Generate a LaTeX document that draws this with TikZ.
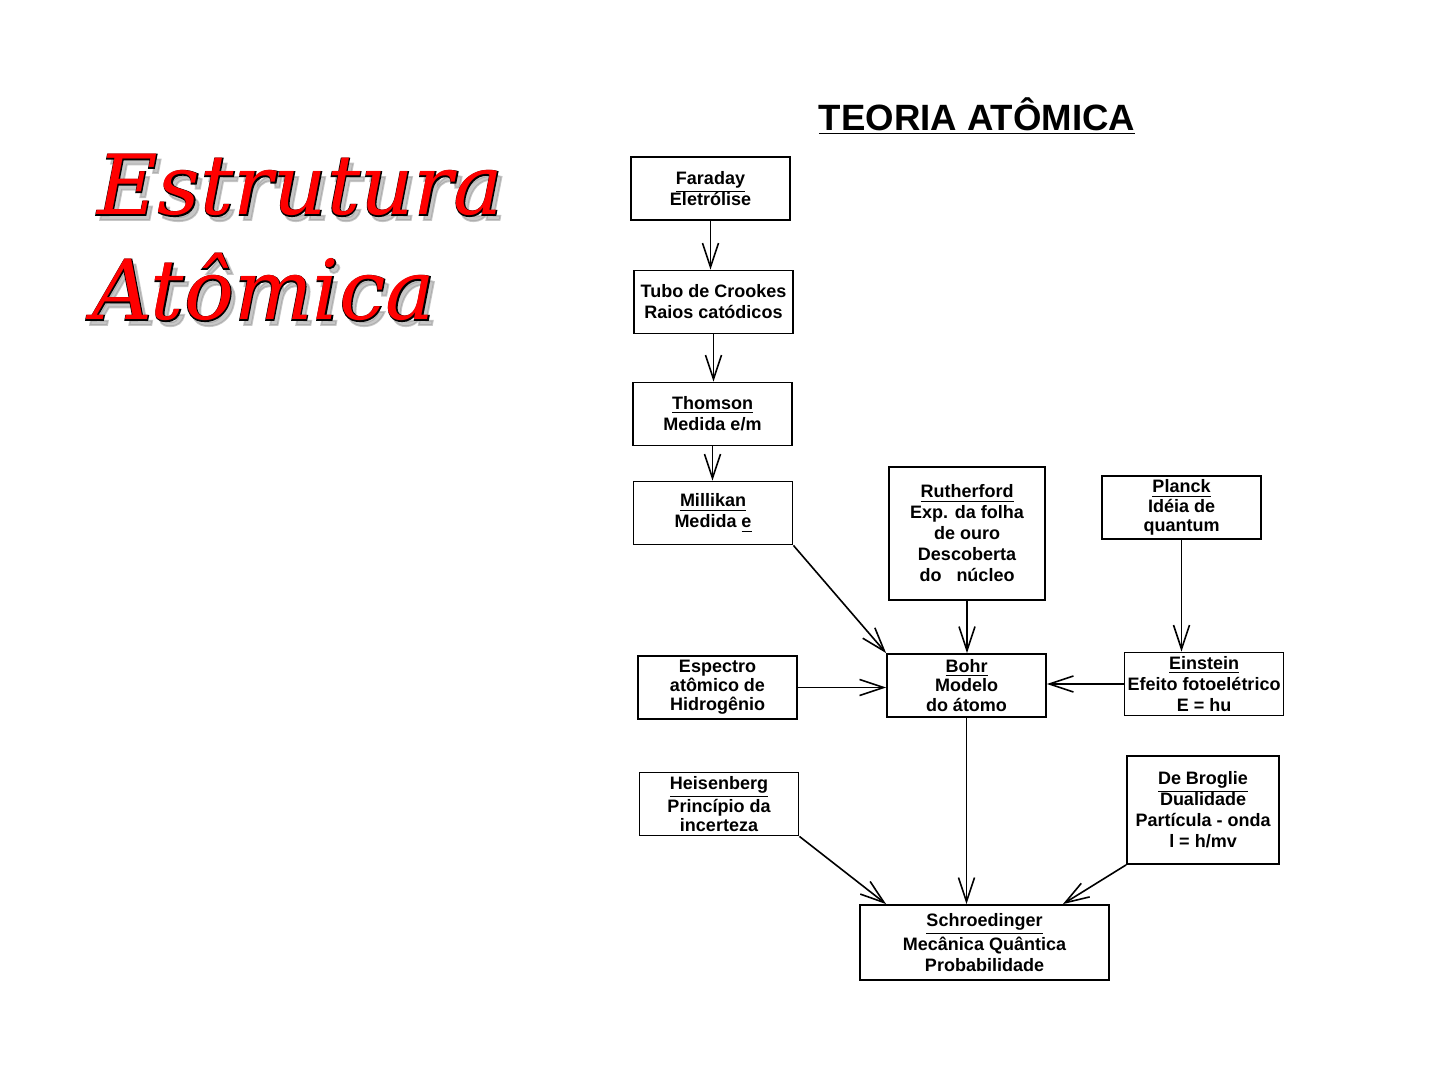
\documentclass[tikz,border=0pt]{standalone}
\usepackage{fontspec}
\setmainfont{Liberation Sans}
\newfontface\titleface{DejaVu Serif Italic}
\newfontface\titleedge[FakeBold=2.2]{DejaVu Serif Italic}
\usetikzlibrary{arrows.meta}

\newcommand{\boxfont}{\fontsize{9}{10.5}\selectfont\bfseries}
\newcommand{\bigtitle}{\titleface\fontsize{41.5}{41.5}\selectfont}
\newcommand{\bigedge}{\titleedge\fontsize{41.5}{41.5}\selectfont}

\tikzset{
  box/.style={draw, rectangle, line width=0.9pt, minimum width=79.5pt, minimum height=31.5pt, inner sep=0.5pt, align=center, font=\boxfont},
  tight/.style={font=\fontsize{9}{9.6}\selectfont\bfseries},
  link/.style={line width=0.8pt, ->},
  shade/.style={anchor=base west, inner sep=0, text=black!40, opacity=0.55, font=\bigedge},
  edge/.style={anchor=base west, inner sep=0, text=black, font=\bigedge},
  face/.style={anchor=base west, inner sep=0, text=red, font=\bigtitle},
}

\begin{document}
\begin{tikzpicture}[x=0.5pt, y=-0.5pt, >={Straight Barb[length=12pt,width=8pt]}]
\useasboundingbox (0,0) rectangle (1440,1080);

% red title on the left
\node [shade] (est-s) at (101,220) {Estrutura};
\node [edge] (est-e) at (97,215) {Estrutura};
\node [face] (est) at (97,215) {Estrutura};
\node [shade] (ato-s) at (96,325) {Atômica};
\node [edge] (ato-e) at (92,320) {Atômica};
\node [face] (ato) at (92,320) {Atômica};

\node [font=\fontsize{18.3}{18.3}\selectfont\bfseries] (titulo) at (977,116) {\underline{TEORIA ATÔMICA}};

% left column
\node [box] (far) at (710.5,188.5) {\underline{Faraday}\\Eletrólise};
\node [box] (cro) at (713.5,302) {Tubo de Crookes\\Raios catódicos};
\node [box] (tho) at (712.5,414) {\underline{Thomson}\\Medida e/m};
\node [box] (mil) at (713,513) {\underline{Millikan}\\Medida \underline{e}};
\node [box,tight] (esp) at (717.5,687.5) {Espectro\\atômico de\\Hidrogênio};
\node [box,tight] (hei) at (719,804) {\underline{Heisenberg}\\Princípio da\\incerteza};

% middle
\node [box,minimum width=78pt,minimum height=66.5pt] (rut) at (967,533.5) {\underline{Rutherford}\\Exp. da folha\\de ouro\\Descoberta\\do~~~núcleo};
\node [box,tight] (boh) at (966.5,685.5) {\underline{Bohr}\\Modelo\\do átomo};
\node [box,minimum width=124.5pt,minimum height=37.5pt] (sch) at (984.5,942.5) {\underline{Schroedinger}\\Mecânica Quântica\\Probabilidade};

% right column
\node [box,tight] (pla) at (1181.5,507.5) {\underline{Planck}\\Idéia de\\quantum};
\node [box,inner sep=0pt] (ein) at (1204,684) {\underline{Einstein}\\Efeito fotoelétrico\\E = hu};
\node [box,minimum width=76pt,minimum height=54pt] (deb) at (1203,810) {\underline{De Broglie}\\Dualidade\\Partícula - onda\\l = h/mv};

\draw[link] (far.south) -- (far.south |- cro.north);
\draw[link] (cro.south) -- (cro.south |- tho.north);
\draw[link] (tho.south) -- (tho.south |- mil.north);
\draw[link] (mil.south east) -- (boh.north west);
\draw[link] (rut.south) -- (rut.south |- boh.north);
\draw[link] (esp.east) -- (esp.east -| boh.west);
\draw[link] (pla.south) -- (pla.south |- ein.north);
\draw[link] (ein.west) -- (ein.west -| boh.east);
\draw[link] (boh.south) -- (boh.south |- sch.north);
\draw[link] (hei.south east) -- ([xshift=13.5pt]sch.north west);
\draw[link] (deb.south west) -- ([xshift=-23.5pt]sch.north east);
\end{tikzpicture}
\end{document}
